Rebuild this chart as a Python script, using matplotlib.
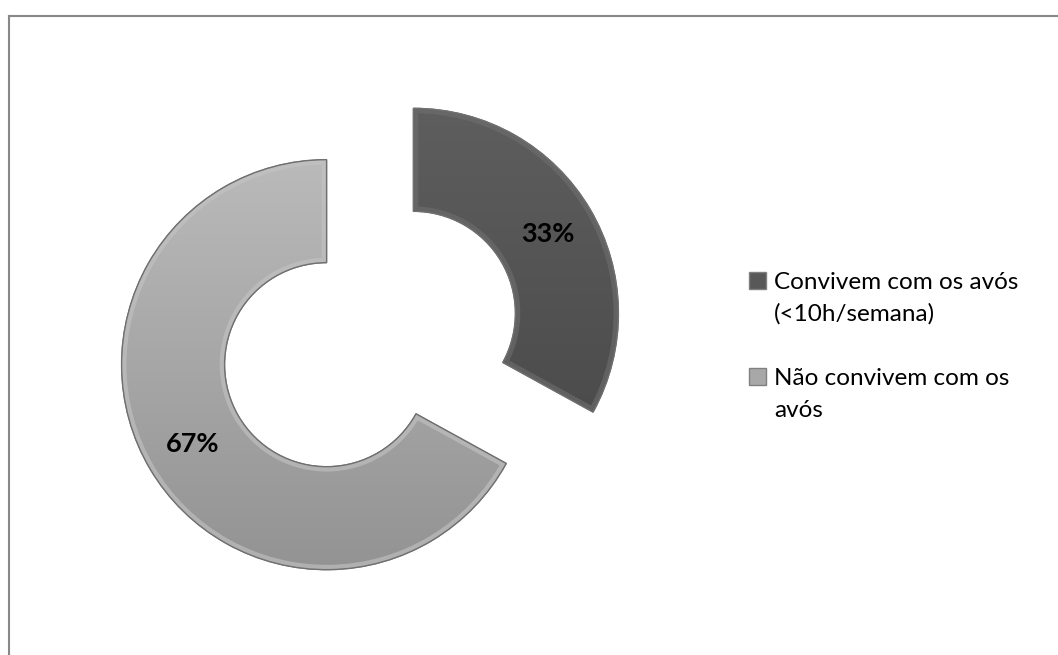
import numpy as np
import matplotlib
matplotlib.use("Agg")
import matplotlib.pyplot as plt
from matplotlib.patches import Rectangle, PathPatch
from matplotlib.lines import Line2D

plt.rcParams['font.family'] = ['Lato', 'DejaVu Sans']

# dados
categorias = ['Convivem com os avós\n(<10h/semana)', 'Não convivem com os\navós']
valores = [33, 67]
cores = ['#585858', '#a8a8a8']
grad_topo = ['#5e5e5e', '#bababa']
grad_base = ['#4c4c4c', '#939393']
bisel = ['#6e6e6e', '#c4c4c4']

W, H = 1058, 655
RAIO = 205


def gradiente(ax, wedge, c1, c2):
    # preenchimento em degradê vertical recortado pela fatia
    bb = wedge.get_path().get_extents(wedge.get_transform())
    inv = ax.transData.inverted()
    (x0, y0), (x1, y1) = inv.transform([[bb.x0, bb.y0], [bb.x1, bb.y1]])
    a = np.array(matplotlib.colors.to_rgb(c1))
    b = np.array(matplotlib.colors.to_rgb(c2))
    t = np.linspace(0, 1, 256)[:, None]
    img = (a * (1 - t) + b * t)[:, None, :]
    im = ax.imshow(img, extent=[x0, x1, y0, y1], origin='upper',
                   aspect='auto', zorder=wedge.get_zorder() + 0.1)
    im.set_clip_path(wedge)


def main():
    fig = plt.figure(figsize=(W / 100, H / 100), dpi=100)
    ax = fig.add_axes([0, 0, 1, 1])

    # explode em unidades de dados (pixels) quando o raio não é 1
    wedges, textos, pcts = ax.pie(
        valores, colors=cores, startangle=90, counterclock=False,
        center=(370, H - 339), radius=RAIO, explode=[0.246 * RAIO, 0.246 * RAIO],
        wedgeprops=dict(width=103, edgecolor='#6a6a6a', linewidth=0.8),
        autopct='%.0f%%', pctdistance=0.76,
        textprops=dict(fontsize=19.5, fontweight='bold', color='black'))

    for i, w in enumerate(wedges):
        gradiente(ax, w, grad_topo[i], grad_base[i])
        # efeito de bisel na borda
        borda = PathPatch(w.get_path(), transform=w.get_transform(),
                          facecolor='none', edgecolor=bisel[i], linewidth=7,
                          alpha=0.6, zorder=w.get_zorder() + 0.2)
        ax.add_patch(borda)
        borda.set_clip_path(w)
        contorno = PathPatch(w.get_path(), transform=w.get_transform(),
                             facecolor='none', edgecolor='#707070', linewidth=1.0,
                             zorder=w.get_zorder() + 0.3)
        ax.add_patch(contorno)
    for p in pcts:
        p.set_zorder(5)

    ax.set_xlim(0, W)
    ax.set_ylim(0, H)
    ax.set_aspect('auto')
    ax.axis('off')

    # legenda manual
    base = [289, 385]
    for i, lab in enumerate(categorias):
        ax.add_patch(Rectangle((749, H - base[i]), 17, 17, facecolor=cores[i],
                               edgecolor='#808080', linewidth=1.0, zorder=5))
        for j, linha in enumerate(lab.split('\n')):
            ax.text(774, H - base[i] - 32 * j, linha, fontsize=17.5,
                    va='baseline', ha='left', color='black', zorder=5)

    # borda
    ax.add_line(Line2D([9, 9], [0, H - 16], color='#888888', linewidth=1.5))
    ax.add_line(Line2D([9, W], [H - 16, H - 16], color='#888888', linewidth=1.5))

    fig.savefig('out.png', dpi=100)


if __name__ == "__main__":
    main()
